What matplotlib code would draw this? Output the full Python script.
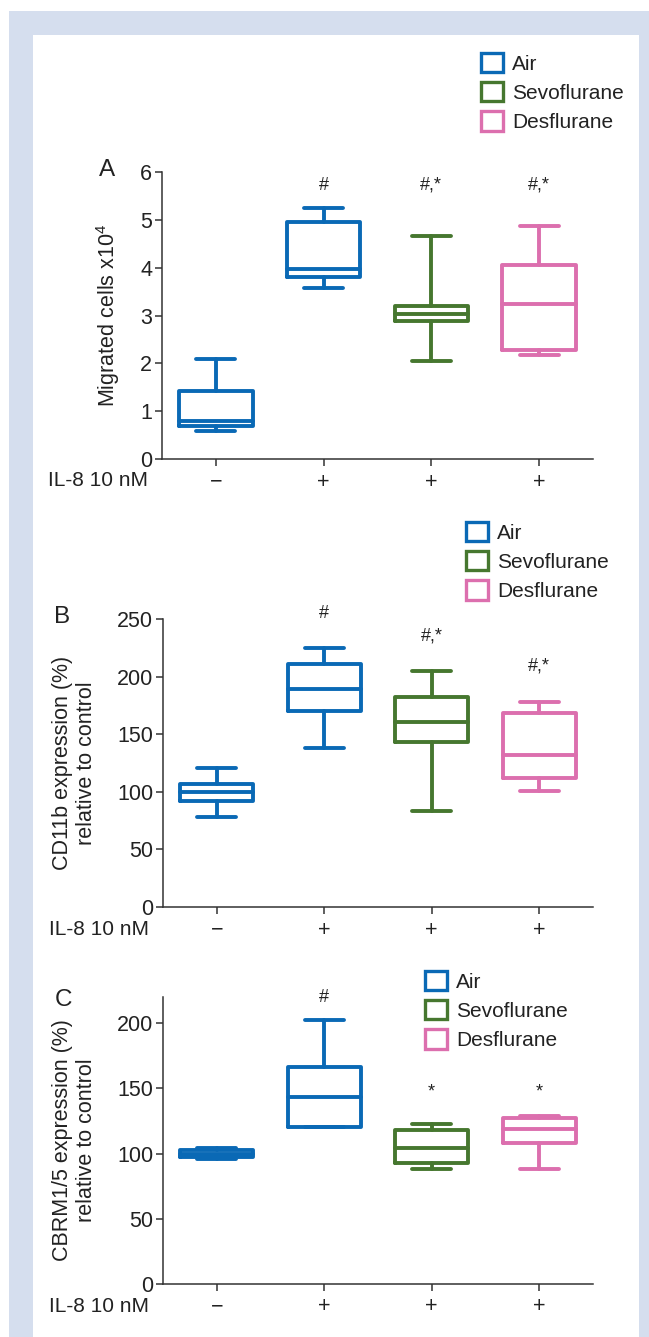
import matplotlib
matplotlib.use("Agg")
import matplotlib.pyplot as plt
from matplotlib.patches import Patch, Rectangle
import numpy as np

plt.rcParams['font.family'] = ['Liberation Sans', 'DejaVu Sans']
plt.rcParams['mathtext.default'] = 'regular'

# data
groups = ["Air", "Air", "Sevoflurane", "Desflurane"]
il8 = ["\u2212", "+", "+", "+"]
legend_names = ["Air", "Sevoflurane", "Desflurane"]
colors = {"Air": "#0a69b5", "Sevoflurane": "#46772f", "Desflurane": "#dc6fae"}

a_lo = [0.59, 3.58, 2.04, 2.17]
a_q1 = [0.70, 3.81, 2.88, 2.28]
a_med = [0.79, 3.98, 3.04, 3.24]
a_q3 = [1.43, 4.95, 3.20, 4.06]
a_hi = [2.10, 5.25, 4.66, 4.88]
a_marks = ["", "#", "#,*", "#,*"]
a_mark_y = [0, 5.72, 5.72, 5.72]

b_lo = [78, 138, 83, 101]
b_q1 = [92, 170, 143, 112]
b_med = [100, 189, 161, 132]
b_q3 = [107, 211, 182, 168]
b_hi = [121, 225, 205, 178]
b_marks = ["", "#", "#,*", "#,*"]
b_mark_y = [0, 255, 235, 209]

c_lo = [96, 120, 88, 88]
c_q1 = [97, 120, 93, 108]
c_med = [100, 143, 104, 119]
c_q3 = [103, 166, 118, 127]
c_hi = [104, 202, 123, 129]
c_marks = ["", "#", "*", "*"]
c_mark_y = [0, 220, 147, 147]

W, H = 649, 1337
fig = plt.figure(figsize=(W / 100, H / 100), dpi=100)
fig.patch.set_facecolor("white")

# light blue frame around the panel
frame_c = "#d5deee"
for (x0, y0, x1, y1) in [(9, 11, 649, 35), (9, 11, 33, 1337), (639, 11, 649, 1337)]:
    fig.patches.append(Rectangle((x0 / W, 1 - y1 / H), (x1 - x0) / W, (y1 - y0) / H,
                                 transform=fig.transFigure, facecolor=frame_c,
                                 edgecolor="none", zorder=0))


def px_axes(left, right, top, bottom):
    return fig.add_axes([left / W, 1 - bottom / H, (right - left) / W, (bottom - top) / H])


def panel(ax, lo, q1, med, q3, hi, marks, mark_y, ylim, yticks, ylabel, lab_x,
          letter, letter_xy, leg_xy):
    pos = np.arange(1, len(groups) + 1)
    for i, g in enumerate(groups):
        st = [dict(med=med[i], q1=q1[i], q3=q3[i], whislo=lo[i], whishi=hi[i], fliers=[])]
        c = colors[g]
        lp = dict(color=c, lw=2.8, solid_capstyle="round", solid_joinstyle="round")
        ax.bxp(st, positions=[pos[i]], widths=0.68, capwidths=0.36, showfliers=False,
               boxprops=lp, whiskerprops=lp, capprops=lp, medianprops=lp)
        if marks[i]:
            ax.text(pos[i], mark_y[i], marks[i], ha="center", va="center",
                    fontsize=13, color="#222222", clip_on=False)
    ax.set_xlim(0.5, 4.5)
    ax.set_ylim(*ylim)
    ax.set_yticks(yticks)
    ax.set_xticks(pos)
    ax.set_xticklabels(il8)
    for s in ["top", "right"]:
        ax.spines[s].set_visible(False)
    for s in ["left", "bottom"]:
        ax.spines[s].set_linewidth(1.1)
        ax.spines[s].set_color("#333333")
    ax.tick_params(axis="both", length=5, width=1.1, color="#333333",
                   labelsize=15.5, labelcolor="#222222")
    ax.tick_params(axis="x", pad=4)
    ax.tick_params(axis="y", pad=2)
    ax.set_ylabel(ylabel, fontsize=15.5, color="#222222", linespacing=1.2)
    ax.yaxis.set_label_coords(lab_x, 0.5)
    ax.text(-0.265, -22 / 287, "IL-8 10 nM", transform=ax.transAxes, ha="left",
            va="center", fontsize=15, color="#222222")
    fig.text(letter_xy[0] / W, 1 - letter_xy[1] / H, letter, ha="center", va="center",
             fontsize=17.5, color="#222222")
    handles = [Patch(facecolor="white", edgecolor=colors[n], lw=2.4) for n in legend_names]
    ax.legend(handles, legend_names, loc="upper left",
              bbox_to_anchor=(leg_xy[0] / W, 1 - leg_xy[1] / H),
              bbox_transform=fig.transFigure, frameon=False, fontsize=15,
              handlelength=1.05, handleheight=1.05, handletextpad=0.45,
              labelspacing=0.4, borderpad=0, borderaxespad=0,
              labelcolor="#222222")


axA = px_axes(162, 593, 172, 459)
panel(axA, a_lo, a_q1, a_med, a_q3, a_hi, a_marks, a_mark_y, (0, 6), range(0, 7),
      "Migrated cells x10$^{4}$", -0.093, "A", (107, 170), (481, 53))

axB = px_axes(163, 593, 619, 907)
panel(axB, b_lo, b_q1, b_med, b_q3, b_hi, b_marks, b_mark_y, (0, 250), range(0, 251, 50),
      "CD11b expression (%)\nrelative to control", -0.153, "B", (62, 617), (466, 522))

axC = px_axes(163, 593, 997, 1284)
panel(axC, c_lo, c_q1, c_med, c_q3, c_hi, c_marks, c_mark_y, (0, 220), range(0, 201, 50),
      "CBRM1/5 expression (%)\nrelative to control", -0.153, "C", (63, 1000), (425, 971))

fig.savefig("out.png", dpi=100)
